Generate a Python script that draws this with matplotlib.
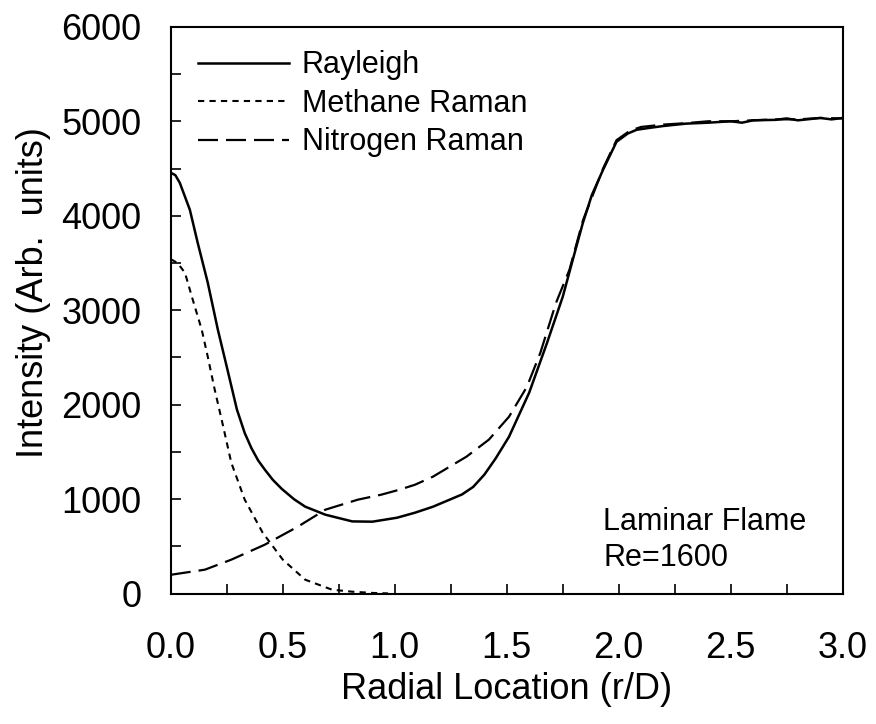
import numpy as np
import matplotlib
matplotlib.use("Agg")
import matplotlib.pyplot as plt
from matplotlib.ticker import MultipleLocator, FormatStrFormatter

plt.rcParams["font.family"] = ["Liberation Sans", "DejaVu Sans"]

# values
rayleigh_r = [0, 0.02, 0.04, 0.085, 0.12, 0.165, 0.21, 0.25, 0.295, 0.33, 0.36, 0.39,
              0.42, 0.455, 0.495, 0.55, 0.6, 0.69, 0.81, 0.9, 1.01, 1.09, 1.17, 1.245,
              1.3, 1.35, 1.4, 1.45, 1.51, 1.6, 1.68, 1.75, 1.8, 1.84, 1.88, 1.93,
              1.99, 2.04, 2.08, 2.14, 2.2, 2.3, 2.4, 2.5, 2.55, 2.6, 2.7, 2.75,
              2.8, 2.9, 2.95, 3.0]
rayleigh_i = [4455, 4430, 4349, 4063, 3714, 3291, 2794, 2400, 1950, 1700, 1540, 1410,
              1312, 1206, 1110, 1000, 921, 836, 765, 762, 804, 857, 920, 995,
              1050, 1130, 1260, 1430, 1661, 2127, 2656, 3143, 3580, 3926, 4220, 4487,
              4783, 4870, 4910, 4931, 4950, 4975, 4985, 5000, 4985, 5010, 5015, 5030,
              5010, 5035, 5020, 5035]

nitrogen_r = [0, 0.152, 0.27, 0.42, 0.567, 0.69, 0.835, 0.94, 1.02, 1.09, 1.17, 1.32,
              1.42, 1.51, 1.59, 1.65, 1.72, 1.78, 1.84, 1.93, 1.99, 2.05, 2.1, 2.2,
              2.3, 2.4, 2.5, 2.6, 2.7, 2.8, 2.9, 3.0]
nitrogen_i = [200, 254, 360, 519, 709, 889, 995, 1048, 1100, 1153, 1238, 1450,
              1630, 1873, 2190, 2550, 3079, 3429, 3950, 4500, 4800, 4900, 4940, 4965,
              4980, 5000, 5000, 5010, 5020, 5020, 5035, 5030]

methane_r = [0, 0.03, 0.063, 0.098, 0.138, 0.165, 0.196, 0.23, 0.27, 0.33, 0.41, 0.5,
             0.6, 0.72, 0.81, 0.9, 0.97]
methane_i = [3540, 3500, 3397, 3111, 2794, 2508, 2159, 1810, 1386, 995, 646, 360,
             148, 42, 21, 8, 3]

fig = plt.figure(figsize=(8.76, 7.24), dpi=100)
ax = fig.add_axes([0.195, 0.180, 0.767, 0.783])

ax.plot(rayleigh_r, rayleigh_i, color="black", lw=1.8, label="Rayleigh")
ax.plot(methane_r, methane_i, color="black", lw=1.5, dashes=(3, 2.5), label="Methane Raman")
ax.plot(nitrogen_r, nitrogen_i, color="black", lw=1.6, dashes=(9, 3.6), label="Nitrogen Raman")

ax.set_xlim(0, 3.0)
ax.set_ylim(0, 6000)
ax.xaxis.set_major_locator(MultipleLocator(0.5))
ax.xaxis.set_minor_locator(MultipleLocator(0.25))
ax.yaxis.set_major_locator(MultipleLocator(1000))
ax.yaxis.set_minor_locator(MultipleLocator(500))
ax.xaxis.set_major_formatter(FormatStrFormatter("%.1f"))

ax.tick_params(which="both", direction="in", length=7, width=1.2, top=False, right=False)
ax.tick_params(axis="x", which="major", pad=27, labelsize=26)
ax.tick_params(axis="y", which="major", pad=21, labelsize=26)
for s in ax.spines.values():
    s.set_linewidth(1.5)

ax.set_xlabel("Radial Location (r/D)", fontsize=26, labelpad=4)
ax.set_ylabel("Intensity (Arb.  units)", fontsize=26)
ax.yaxis.set_label_coords(-0.178, 0.531)

ax.legend(loc="upper left", bbox_to_anchor=(0.022, 0.98), frameon=False, fontsize=22,
          handlelength=3.0, handletextpad=0.4, labelspacing=0.28, borderaxespad=0.0)

ax.text(1.93, 762, "Laminar Flame", fontsize=22, va="center")
ax.text(1.93, 381, "Re=1600", fontsize=22, va="center")

fig.savefig("out.png", dpi=100)
